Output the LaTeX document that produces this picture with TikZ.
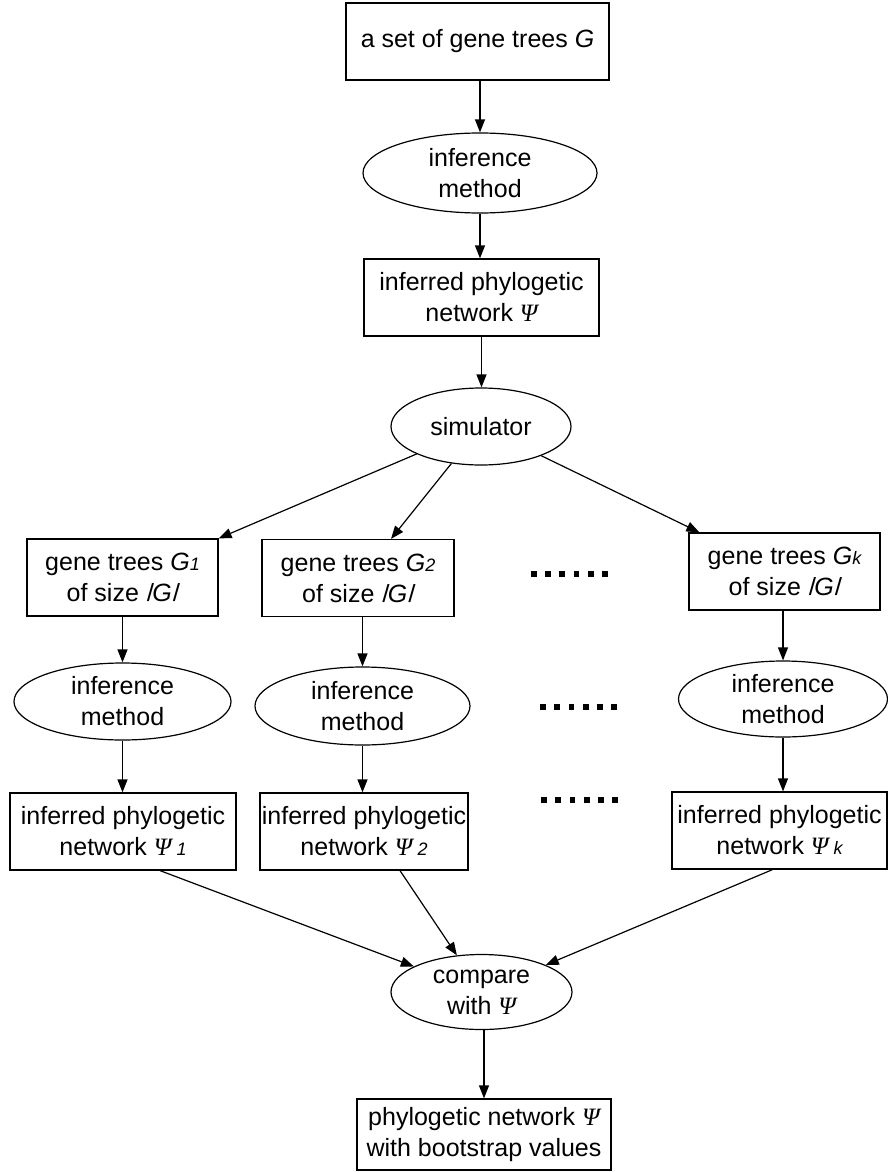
\documentclass[tikz,border=0pt]{standalone}
\usepackage{fontspec}
\setmainfont{Liberation Sans}
\newfontfamily\psifont{Liberation Serif}
\newfontfamily\slantsans[FakeSlant=0.22]{Liberation Sans}
\usetikzlibrary{shapes.geometric,arrows.meta}
\newcommand{\Psy}{{\psifont\itshape Ψ}}
\newcommand{\idx}[1]{{\fontsize{18}{18}\selectfont\itshape #1}}
% slanted, cap-height vertical bar for the set size |G|
\newcommand{\sbar}{\raisebox{0.16em}{\scalebox{1}[0.77]{\slantsans |}}}
\newcommand{\sizeG}{\sbar\textit{G}\sbar}
\tikzset{
  base/.style={draw, line width=1.2pt, inner sep=0pt, align=center,
    font=\fontsize{25}{31}\selectfont},
  stepbox/.style={base, rectangle, minimum height=77pt},
  procell/.style={base, ellipse},
  arr/.style={line width=1.2pt, -{Triangle[length=13pt,width=10pt]}},
}
\begin{document}
\begin{tikzpicture}[x=1pt,y=-1pt]
\useasboundingbox (0,0) rectangle (888,1172);

% main column
\node[stepbox, minimum width=263pt] (top) at (477.5,41.5) {a set of gene trees \textit{G}};
\node[procell, minimum width=234pt, minimum height=80pt] (e0) at (480,173) {inference\\method};
\node[stepbox, minimum width=235pt] (net) at (481.5,297.5) {inferred phylogetic\\network \Psy};
\node[procell, minimum width=180pt, minimum height=77pt] (sim) at (481,426.5) {simulator};

% replicate columns
\node[stepbox, minimum width=191pt] (g1) at (122.5,577.5) {gene trees \textit{G}\idx{1}\\of size \sizeG};
\node[stepbox, minimum width=192pt] (g2) at (358,578) {gene trees \textit{G}\idx{2}\\of size \sizeG};
\node[stepbox, minimum width=191pt] (gk) at (784.5,571.5) {gene trees \textit{G}\idx{k}\\of size \sizeG};

\node[procell, minimum width=217pt, minimum height=77pt] (e1) at (122.5,701.5) {inference\\method};
\node[procell, minimum width=215pt, minimum height=78pt] (e2) at (362.5,706) {inference\\method};
\node[procell, minimum width=209pt, minimum height=76pt] (ek) at (783,699) {inference\\method};

\node[stepbox, minimum width=226pt] (b1) at (123,831.5) {inferred phylogetic\\network \Psy\hspace{5pt}\idx{1}};
\node[stepbox, minimum width=208pt] (b2) at (364,831.5) {inferred phylogetic\\network \Psy\hspace{5pt}\idx{2}};
\node[stepbox, minimum width=215pt] (bk) at (779.5,830.5) {inferred phylogetic\\network \Psy\hspace{5pt}\idx{k}};

\node[procell, minimum width=181pt, minimum height=75pt] (cmp) at (481.5,992) {compare\\with \Psy};
\node[stepbox, minimum width=254pt, minimum height=71pt] (fin) at (484,1134.5) {phylogetic network \Psy\\with bootstrap values};

% ellipsis marks between columns
\foreach \y/\x in {574/533.8, 706.7/543, 800/544}
  \foreach \i in {0,...,5}
    \fill ({\x+14.2*\i-2.9},{\y-2.9}) rectangle ++(5.8,5.8);

% connectors
\draw[arr] (top.south -| e0.north) -- (e0.north);
\draw[arr] (e0.south) -- (e0.south |- net.north);
\draw[arr] (net.south) -- (net.south |- sim.north);

\draw[arr] (sim) -- (g1.north east);
\draw[arr] (sim) -- ([xshift=33pt]g2.north);
\draw[arr] (sim) -- ([xshift=11pt]gk.north west);

\draw[arr] (g1.south) -- (g1.south |- e1.north);
\draw[arr] (g2.south -| e2.north) -- (e2.north);
\draw[arr] (gk.south -| ek.north) -- (ek.north);

\draw[arr] (e1.south) -- (e1.south |- b1.north);
\draw[arr] (e2.south) -- (e2.south |- b2.north);
\draw[arr] (ek.south) -- (ek.south |- bk.north);

\draw[arr] ([xshift=37pt]b1.south) -- (cmp);
\draw[arr] ([xshift=36pt]b2.south) -- (cmp);
\draw[arr] ([xshift=-7pt]bk.south) -- (cmp);

\draw[arr] (cmp.south -| fin.north) -- (fin.north);
\end{tikzpicture}
\end{document}
